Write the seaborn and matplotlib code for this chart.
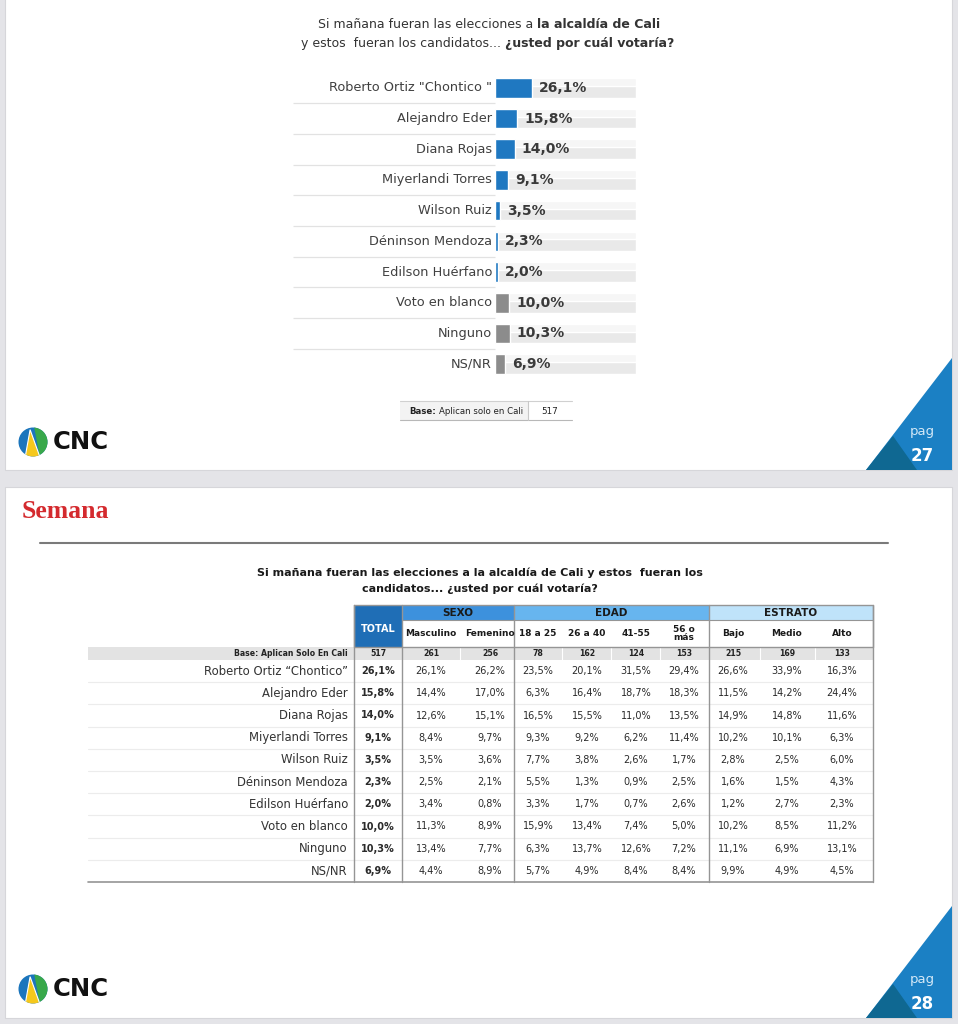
import numpy as np
import pandas as pd
import matplotlib
matplotlib.use("Agg")
import matplotlib.pyplot as plt
import seaborn as sns
from matplotlib.patches import Rectangle, Polygon, Circle

sns.set_theme(style="white")
plt.rcParams['font.family'] = ['DejaVu Sans']

# --- data ---
candidatos_graf = ['Roberto Ortiz "Chontico "', "Alejandro Eder", "Diana Rojas",
                   "Miyerlandi Torres", "Wilson Ruiz", "Déninson Mendoza",
                   "Edilson Huérfano", "Voto en blanco", "Ninguno", "NS/NR"]
candidatos_tabla = ["Roberto Ortiz “Chontico”", "Alejandro Eder", "Diana Rojas",
                    "Miyerlandi Torres", "Wilson Ruiz", "Déninson Mendoza",
                    "Edilson Huérfano", "Voto en blanco", "Ninguno", "NS/NR"]
total = [26.1, 15.8, 14.0, 9.1, 3.5, 2.3, 2.0, 10.0, 10.3, 6.9]
masculino = [26.1, 14.4, 12.6, 8.4, 3.5, 2.5, 3.4, 11.3, 13.4, 4.4]
femenino = [26.2, 17.0, 15.1, 9.7, 3.6, 2.1, 0.8, 8.9, 7.7, 8.9]
edad_18_25 = [23.5, 6.3, 16.5, 9.3, 7.7, 5.5, 3.3, 15.9, 6.3, 5.7]
edad_26_40 = [20.1, 16.4, 15.5, 9.2, 3.8, 1.3, 1.7, 13.4, 13.7, 4.9]
edad_41_55 = [31.5, 18.7, 11.0, 6.2, 2.6, 0.9, 0.7, 7.4, 12.6, 8.4]
edad_56 = [29.4, 18.3, 13.5, 11.4, 1.7, 2.5, 2.6, 5.0, 7.2, 8.4]
bajo = [26.6, 11.5, 14.9, 10.2, 2.8, 1.6, 1.2, 10.2, 11.1, 9.9]
medio = [33.9, 14.2, 14.8, 10.1, 2.5, 1.5, 2.7, 8.5, 6.9, 4.9]
alto = [16.3, 24.4, 11.6, 6.3, 6.0, 4.3, 2.3, 11.2, 13.1, 4.5]
bases = [517, 261, 256, 78, 162, 124, 153, 215, 169, 133]
subcols = ["TOTAL", "Masculino", "Femenino", "18 a 25", "26 a 40", "41-55",
           "56 o\nmás", "Bajo", "Medio", "Alto"]
grupos = ["SEXO", "EDAD", "ESTRATO"]

tabla = pd.DataFrame({"TOTAL": total, "Masculino": masculino, "Femenino": femenino,
                      "18 a 25": edad_18_25, "26 a 40": edad_26_40, "41-55": edad_41_55,
                      "56 o\nmás": edad_56, "Bajo": bajo, "Medio": medio, "Alto": alto},
                     index=candidatos_tabla)


def pct(v):
    return f"{v:.1f}%".replace(".", ",")


W, H = 958, 1024
fig = plt.figure(figsize=(W / 100, H / 100), dpi=100)
fig.patch.set_facecolor("#e4e4e8")

# full-figure canvas in pixel units for the slide furniture and the table
cv = fig.add_axes([0, 0, 1, 1])
cv.set_xlim(0, W)
cv.set_ylim(H, 0)
cv.axis("off")

cv.add_patch(Rectangle((5, -5), 947, 475, fc="white", ec="#d6d6da", lw=0.8))
cv.add_patch(Rectangle((5, 487), 947, 531, fc="white", ec="#d6d6da", lw=0.8))

renderer = fig.canvas.get_renderer()


def mixed_line(parts, x, y, size, color="#333333", center=True):
    objs = []
    for txt, w in parts:
        objs.append(cv.text(0, y, txt, fontsize=size, fontweight=w, color=color,
                            ha="left", va="center"))
    gap = 0.32 * size * 100 / 72
    widths = [t.get_window_extent(renderer).width for t in objs]
    if center:
        x = x - (sum(widths) + gap * (len(objs) - 1)) / 2
    for t, wd in zip(objs, widths):
        t.set_x(x)
        x += wd + gap
    return objs


def cnc_logo(cx, cy):
    r = 14.5
    circ = Circle((cx, cy), r, fc="#1b75bc", ec="none", zorder=3)
    cv.add_patch(circ)
    g = Polygon([(cx + 0.05 * r, cy - 1.1 * r), (cx + 1.1 * r, cy - 1.1 * r),
                 (cx + 1.1 * r, cy + 1.1 * r), (cx + 0.5 * r, cy + 1.1 * r)],
                fc="#38a84a", ec="none", zorder=4)
    cv.add_patch(g)
    g.set_clip_path(circ)
    y_ = Polygon([(cx - 0.2 * r, cy - 0.85 * r), (cx + 0.5 * r, cy + 1.1 * r),
                  (cx - 0.55 * r, cy + 1.1 * r)], fc="#f5c81c", ec="white", lw=0.8, zorder=5)
    cv.add_patch(y_)
    y_.set_clip_path(circ)
    cv.text(cx + 20, cy, "CNC", fontsize=17.5, fontweight="bold", color="#111111",
            ha="left", va="center")


def page_tri(ybot, num):
    cv.add_patch(Polygon([(866, ybot), (952, ybot - 112), (952, ybot)], fc="#1b80c4", ec="none"))
    cv.add_patch(Polygon([(866, ybot), (893, ybot - 34), (917, ybot)], fc="#0f6892", ec="none"))
    cv.text(922, ybot - 38, "pag", color="#d3e8f7", fontsize=9.5, ha="center", va="center")
    cv.text(922, ybot - 14, num, color="white", fontsize=12, fontweight="bold",
            ha="center", va="center")


# ---------------- slide 27: bar chart ----------------
mixed_line([("Si mañana fueran las elecciones a", "normal"), ("la alcaldía de Cali", "bold")],
           489, 25, 9)
mixed_line([("y estos  fueran los candidatos...", "normal"), ("¿usted por cuál votaría?", "bold")],
           488, 43, 9)

ax = fig.add_axes([293 / W, 1 - 379.4 / H, 343 / W, 306.8 / H])
ax.set_facecolor("none")
n = len(candidatos_graf)
ypos = np.arange(n)
ax.barh(ypos, 100, height=0.64, color="#e9e9e9", zorder=0)
ax.barh(ypos - 0.19, 100, height=0.26, color="#f6f6f6", zorder=0)
colores = ["#1f78c1"] * 7 + ["#8c8c8c"] * 3
sns.barplot(x=total, y=candidatos_graf, hue=candidatos_graf, palette=colores,
            legend=False, orient="h", width=0.64, saturation=1, ax=ax, zorder=2)
ax.hlines(ypos[:-1] + 0.5, -143.3, 0, color="#e2e2e2", lw=0.9)
for i, (lab, v) in enumerate(zip(candidatos_graf, total)):
    ax.text(-2.2, i, lab, ha="right", va="center", fontsize=9.3, color="#404040")
    ax.text(v + 5, i, pct(v), ha="left", va="center", fontsize=10, fontweight="bold",
            color="#3a3a3a")
ax.set_xlim(-143.3, 100)
ax.set_ylim(n - 0.5, -0.5)
ax.set_xticks([])
ax.set_yticks([])
ax.set_xlabel("")
ax.set_ylabel("")
for s in ax.spines.values():
    s.set_visible(False)

# base box
cv.add_patch(Rectangle((400, 401), 128, 19, fc="#f3f3f3", ec="none"))
cv.plot([400, 572], [401, 401], color="#d0d0d0", lw=0.8)
cv.plot([400, 572], [420, 420], color="#b8b8b8", lw=0.8)
cv.plot([528, 528], [401, 420], color="#c8c8c8", lw=0.8)
mixed_line([("Base:", "bold"), ("Aplican solo en Cali", "normal")], 409, 411, 6.2,
           color="#222222", center=False)
cv.text(550, 411, str(bases[0]), fontsize=6.3, color="#222222", ha="center", va="center")

cnc_logo(33, 442)
page_tri(470, "27")

# ---------------- slide 28: table ----------------
cv.text(22, 512, "Semana", fontsize=18.5, fontweight="bold", color="#d42a2e",
        family="Liberation Serif", ha="left", va="center")
cv.plot([40, 888], [543, 543], color="#7a7a7a", lw=1.5)
cv.text(480, 573, "Si mañana fueran las elecciones a la alcaldía de Cali y estos  fueran los",
        fontsize=8, fontweight="bold", color="#1a1a1a", ha="center", va="center")
cv.text(480, 589, "candidatos... ¿usted por cuál votaría?",
        fontsize=8, fontweight="bold", color="#1a1a1a", ha="center", va="center")

col_x = [378, 431, 490, 538, 587, 636, 684, 733, 787, 842]
col_edges = [354, 402, 460, 514, 562, 611, 660, 709, 760, 815, 873]
grp_edges = [402, 514, 709, 873]
grp_cols = ["#3d91dd", "#67b5ef", "#bfe3fa"]
top_y, grp_y, base_y, row0 = 605, 620, 647, 660
row_h = 22.2
bottom_y = row0 + row_h * len(candidatos_tabla)

cv.add_patch(Rectangle((354, top_y), 48, base_y - top_y, fc="#1f6eb6", ec="none"))
cv.text(378, 629, subcols[0], fontsize=7, fontweight="bold", color="white",
        ha="center", va="center")
for g, name in enumerate(grupos):
    x0, x1 = grp_edges[g], grp_edges[g + 1]
    cv.add_patch(Rectangle((x0, top_y), x1 - x0, grp_y - top_y, fc=grp_cols[g], ec="none"))
    cv.text((x0 + x1) / 2, 612.5, name, fontsize=7.5, fontweight="bold", color="#1a1a1a",
            ha="center", va="center")
for j in range(1, len(subcols)):
    cv.text(col_x[j], 633.5, subcols[j], fontsize=6.5, fontweight="bold", color="#1a1a1a",
            ha="center", va="center", linespacing=0.95)

# base row
cv.add_patch(Rectangle((88, base_y), 873 - 88, row0 - base_y, fc="#e3e3e3", ec="none"))
for xe in col_edges[1:-1]:
    cv.plot([xe, xe], [base_y, row0], color="white", lw=0.8)
cv.text(348, 653.5, "Base: Aplican Solo En Cali", fontsize=5.6, fontweight="bold",
        color="#222222", ha="right", va="center")
for j, b in enumerate(bases):
    cv.text(col_x[j], 653.5, str(b), fontsize=5.6, fontweight="bold", color="#222222",
            ha="center", va="center")

# data rows
for i, cand in enumerate(tabla.index):
    yc = row0 + row_h * (i + 0.5)
    if i > 0:
        cv.plot([88, 873], [row0 + row_h * i] * 2, color="#ececec", lw=0.8)
    cv.text(348, yc, cand, fontsize=8.4, color="#333333", ha="right", va="center")
    for j, col in enumerate(tabla.columns):
        cv.text(col_x[j], yc, pct(tabla.loc[cand, col]), fontsize=7,
                fontweight="bold" if j == 0 else "normal", color="#2a2a2a",
                ha="center", va="center")

# grid lines
line_c = "#959595"
cv.plot([354, 873, 873, 354, 354], [top_y, top_y, base_y, base_y, top_y], color=line_c, lw=1)
cv.plot([402, 873], [grp_y, grp_y], color=line_c, lw=0.8)
for xe in [354, 402, 514, 709, 873]:
    cv.plot([xe, xe], [top_y, bottom_y], color=line_c, lw=1)
cv.plot([88, 873], [bottom_y, bottom_y], color=line_c, lw=1.2)

cnc_logo(33, 989)
page_tri(1018, "28")

fig.savefig("out.png", dpi=100, facecolor=fig.get_facecolor())
